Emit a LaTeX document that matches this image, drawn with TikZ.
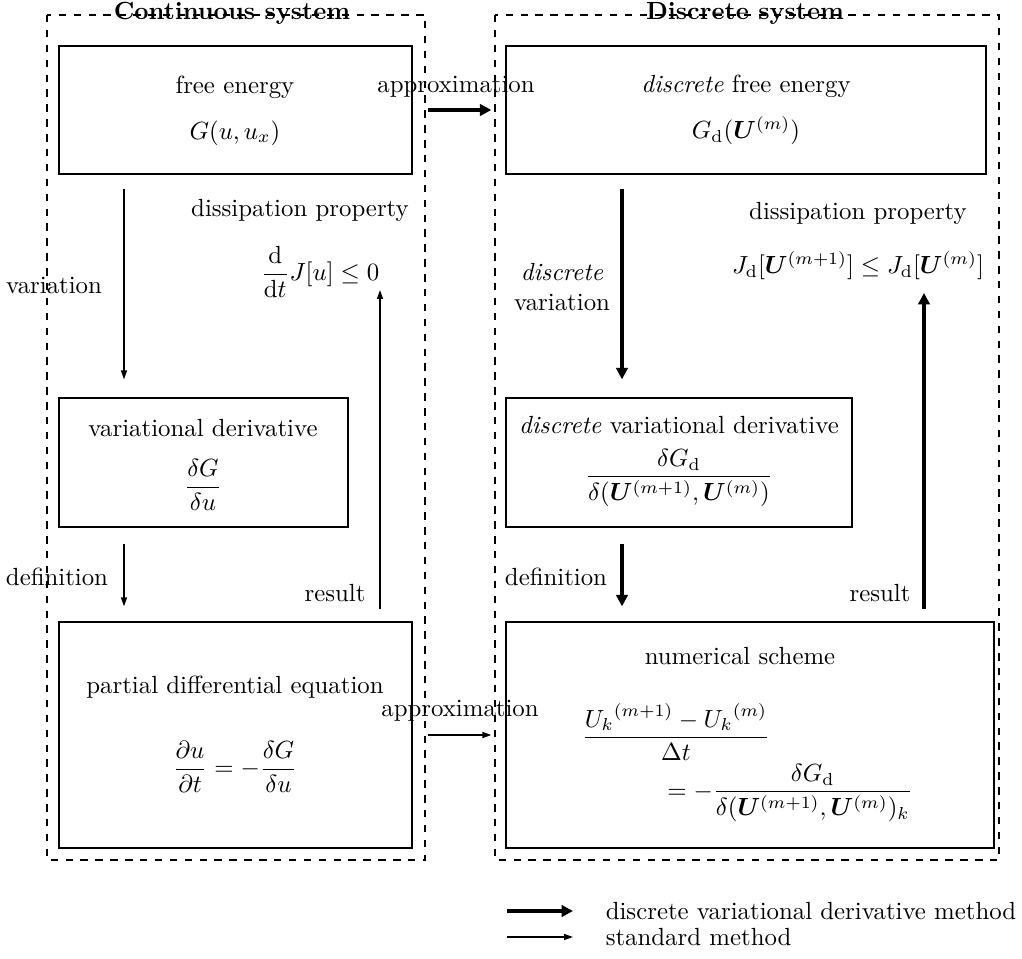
\documentclass[tikz,border=0pt]{standalone}
\usepackage{amsmath,bm}
\usetikzlibrary{arrows.meta,fit}

\tikzset{every picture/.style={line width=0.75pt}}
\tikzset{
	box/.style={draw, rectangle, inner sep=0pt, line width=0.6pt},
	frame/.style={draw, dashed, line width=0.6pt},
	dvdm/.style={line width=1.7pt, -{Triangle[length=4.6pt,width=4.6pt]}},
	stdm/.style={line width=0.6pt, -{Triangle[length=3.6pt,width=2.4pt]}},
	lbl/.style={inner sep=0.75pt}
}

\begin{document}
\begin{tikzpicture}[x=0.403pt,y=0.403pt,yscale=-1,xscale=1]
	\useasboundingbox (0,0) rectangle (1022,959);
	
	%Shape: Rectangle (dashed frames)
	\draw [frame] (47,15) rectangle (425,860) ;
	\draw [frame] (495,15) rectangle (999,860) ;
	
	%Shape: Rectangle
	\node [box, fit={(59,46) (412,174)}] (fe) {};
	\node [box, fit={(59,398) (348,527)}] (vd) {};
	\node [box, fit={(59,622) (412,848)}] (pde) {};
	\node [box, fit={(506,46) (986,174)}] (dfe) {};
	\node [box, fit={(506,398) (852,527)}] (dvd) {};
	\node [box, fit={(506,622) (994,848)}] (ns) {};
	
	% Text Node
	\node [lbl] (t-cont) at (232,13) {\textbf{Continuous system}};
	% Text Node
	\node [lbl] (t-disc) at (745,13) {\textbf{Discrete system}};
	
	% Text Node
	\node [lbl] (fe-t) at (235,87) {free energy};
	% Text Node
	\node [lbl] (fe-m) at (235,133) {$G(u,u_x)$};
	% Text Node
	\node [lbl] (dfe-t) at (746,86) {\textit{discrete} free energy};
	% Text Node
	\node [lbl] (dfe-m) at (746,131) {$G_{\mathrm{d}}(\bm{U}^{(m)})$};
	% Text Node
	\node [lbl] (vd-t) at (203,428) {variational derivative};
	% Text Node
	\node [lbl] (vd-m) at (203,485) {$\displaystyle\frac{\delta G}{\delta u}$};
	% Text Node
	\node [lbl] (dvd-t) at (679,425) {\textit{discrete} variational derivative};
	% Text Node
	\node [lbl] (dvd-m) at (679,478) {$\displaystyle\frac{\delta G_{\mathrm{d}}}{\delta(\bm{U}^{(m+1)},\bm{U}^{(m)})}$};
	% Text Node
	\node [lbl] (pde-t) at (235,687) {partial differential equation};
	% Text Node
	\node [lbl] (pde-m) at (235,767) {$\displaystyle\frac{\partial u}{\partial t}=-\frac{\delta G}{\delta u}$};
	% Text Node
	\node [lbl] (ns-t) at (740,656) {numerical scheme};
	% Text Node
	\node [lbl] (ns-a) at (676,732) {$\displaystyle\frac{{U_k}^{(m+1)}-{U_k}^{(m)}}{\Delta t}$};
	% Text Node
	\node [lbl] (ns-b) at (790,793) {$\displaystyle=-\frac{\delta G_{\mathrm{d}}}{\delta(\bm{U}^{(m+1)},\bm{U}^{(m)})_k}$};
	
	% Text Node
	\node [lbl] (dp-l) at (300,210) {dissipation property};
	% Text Node
	\node [lbl] (dp-lm) at (320,272) {$\displaystyle\frac{\mathrm{d}}{\mathrm{d}t}J[u]\leq 0$};
	% Text Node
	\node [lbl] (dp-r) at (858,213) {dissipation property};
	% Text Node
	\node [lbl] (dp-rm) at (858,266) {$J_{\mathrm{d}}[\bm{U}^{(m+1)}]\leq J_{\mathrm{d}}[\bm{U}^{(m)}]$};
	
	% Text Node
	\node [lbl] (ap-1) at (456,87) {approximation};
	% Text Node
	\node [lbl] (ap-2) at (460,711) {approximation};
	% Text Node
	\node [lbl] (var-l) at (54,285) {variation};
	% Text Node
	\node [lbl, align=center] (var-r) at (562,287) {\textit{discrete}\\variation};
	% Text Node
	\node [lbl] (def-l) at (57,577) {definition};
	% Text Node
	\node [lbl] (def-r) at (556,577) {definition};
	% Text Node
	\node [lbl] (res-l) at (335,593) {result};
	% Text Node
	\node [lbl] (res-r) at (880,593) {result};
	
	\coordinate (cL) at (124,0);
	\coordinate (cR) at (622,0);
	\coordinate (rL) at (380,290);
	\coordinate (rR) at (924,293);
	
	%Straight Lines
	\draw [dvdm, shorten <=6pt, shorten >=5.6pt] (fe.east) -- (dfe.west) ;
	\draw [stdm, shorten <=6pt, shorten >=5.6pt] (pde.east) -- (ns.west) ;
	%Straight Lines
	\draw [stdm, shorten <=5.6pt, shorten >=7.2pt] (fe.south -| cL) -- (vd.north -| cL) ;
	\draw [stdm, shorten <=6.4pt, shorten >=6pt] (vd.south -| cL) -- (pde.north -| cL) ;
	\draw [stdm, shorten <=4.8pt] (pde.north -| rL) -- (rL) ;
	%Straight Lines
	\draw [dvdm, shorten <=5.6pt, shorten >=7.2pt] (dfe.south -| cR) -- (dvd.north -| cR) ;
	\draw [dvdm, shorten <=6.4pt, shorten >=6pt] (dvd.south -| cR) -- (ns.north -| cR) ;
	\draw [dvdm, shorten <=4.8pt] (ns.north -| rR) -- (rR) ;
	
	% Legend
	\coordinate (lg-a1) at (507,911);
	\coordinate (lg-a2) at (573,911);
	\coordinate (lg-b1) at (507,937);
	\coordinate (lg-b2) at (573,937);
	\draw [dvdm] (lg-a1) -- (lg-a2) ;
	\draw [stdm] (lg-b1) -- (lg-b2) ;
	% Text Node
	\node [lbl, anchor=west] (lg-a) at (603,911) {discrete variational derivative method};
	% Text Node
	\node [lbl, anchor=west] (lg-b) at (603,937) {standard method};
	
\end{tikzpicture}
\end{document}
